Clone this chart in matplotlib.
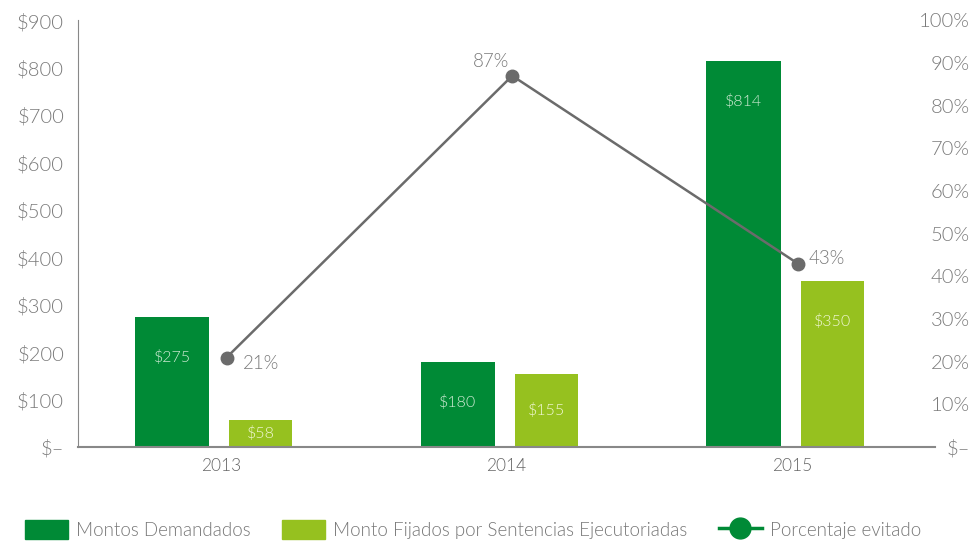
import matplotlib.pyplot as plt
from matplotlib.lines import Line2D
from matplotlib.patches import Patch
import numpy as np

years = ["2013", "2014", "2015"]
montos_demandados = [275, 180, 814]
montos_fijados = [58, 155, 350]
porcentaje_evitado = [21, 87, 43]
pct_labels = ["21%", "87%", "43%"]

dark_green = "#008A36"
light_green = "#96C11F"
line_gray = "#6b6b6b"
text_gray = "#7a7a7a"

plt.rcParams["font.family"] = ["Lato", "DejaVu Sans"]
plt.rcParams["font.weight"] = 300

fig = plt.figure(figsize=(9.75, 5.48), dpi=100)
ax = fig.add_axes([0.080, 0.184, 0.879, 0.779])
x = np.arange(len(years))

dark = ax.bar(x - 0.17, montos_demandados, width=0.26, color=dark_green, zorder=2)
light = ax.bar(x + 0.14, montos_fijados, width=0.22, color=light_green, zorder=2)

# labels inside bars
for bars, col in [(dark, "#d2ecd6"), (light, "#f2f8d8")]:
    for b in bars:
        v = b.get_height()
        ax.text(b.get_x() + b.get_width() / 2, max(v / 2, v - 85), "$%d" % v,
                ha="center", va="center", fontsize=11.5, color=col, zorder=3)

ax.set_xlim(-0.5, 2.5)
ax.set_ylim(0, 900)
ax.set_yticks(np.arange(0, 901, 100))
ax.set_yticklabels(["$–"] + ["$%d" % v for v in range(100, 901, 100)])
ax.set_xticks(x)
ax.set_xticklabels(years)
ax.tick_params(axis="y", length=0, pad=10, labelsize=14.5, labelcolor=text_gray)
ax.tick_params(axis="x", length=0, pad=8, labelsize=12.5, labelcolor="#666666")
for s in ["top", "right"]:
    ax.spines[s].set_visible(False)
ax.spines["left"].set_color("#888888")
ax.spines["bottom"].set_color("#888888")
ax.spines["bottom"].set_linewidth(1.5)

ax2 = ax.twinx()
ax2.plot(x + 0.02, porcentaje_evitado, color=line_gray, lw=1.8, marker="o",
         markersize=9, zorder=4)
ax2.set_ylim(0, 100)
ax2.set_yticks(np.arange(0, 101, 10))
ax2.set_yticklabels(["$–"] + ["%d%%" % v for v in range(10, 101, 10)], ha="right")
ax2.tick_params(axis="y", length=0, pad=25, labelsize=14.5, labelcolor=text_gray)
for s in ["top", "right", "left", "bottom"]:
    ax2.spines[s].set_visible(False)

offsets = [(12, -4, "left"), (-2, 10, "right"), (8, 4, "left")]
for xi, v, lab, (dx, dy, ha) in zip(x, porcentaje_evitado, pct_labels, offsets):
    ax2.annotate(lab, (xi + 0.02, v), xytext=(dx, dy), textcoords="offset points",
                 ha=ha, va="center", fontsize=13.5, color=text_gray)

handles = [
    Patch(color=dark_green),
    Patch(color=light_green),
    Line2D([], [], color=dark_green, lw=2.5, marker="o", markersize=15),
]
labels = ["Montos Demandados", "Monto Fijados por Sentencias Ejecutoriadas", "Porcentaje evitado"]
fig.legend(handles, labels, loc="lower center", bbox_to_anchor=(0.485, -0.015), ncol=3,
           frameon=False, fontsize=13.5, labelcolor="#777777", handlelength=2.3,
           handleheight=1.2, columnspacing=1.7, handletextpad=0.4)

fig.savefig("out.png", dpi=100)
